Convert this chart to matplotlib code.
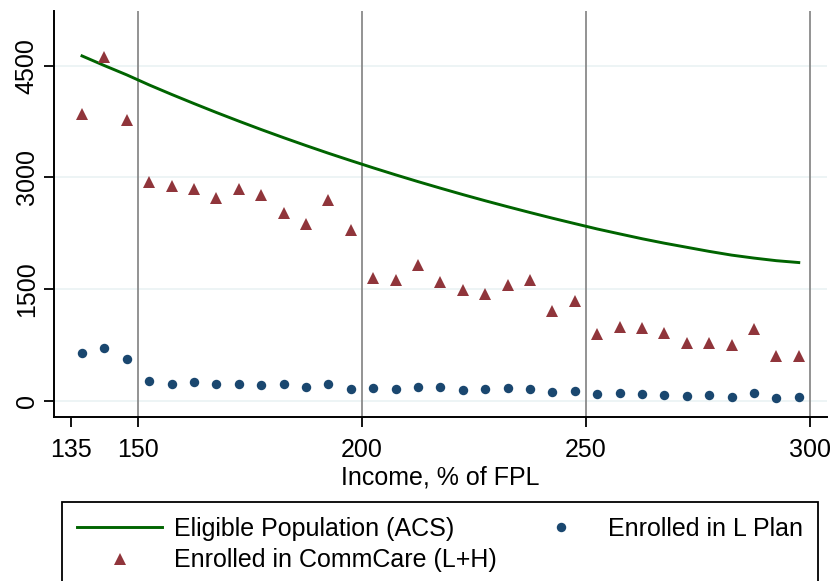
import matplotlib.pyplot as plt
from matplotlib.legend_handler import HandlerLine2D
import numpy as np

plt.rcParams["font.family"] = ["Liberation Sans", "DejaVu Sans"]

# income bins (% of FPL), 5-point bins from 135 to 300
income = np.arange(137.5, 300, 5)

eligible = [4630, 4500, 4375, 4240, 4113, 3990, 3870, 3754, 3641, 3532, 3426,
            3323, 3224, 3127, 3033, 2942, 2854, 2768, 2685, 2605, 2527, 2451,
            2378, 2306, 2240, 2175, 2115, 2060, 2005, 1955, 1915, 1880, 1855]

commcare = [3854, 4613, 3765, 2941, 2887, 2845, 2722, 2845, 2766, 2520, 2370,
            2698, 2295, 1652, 1621, 1821, 1594, 1489, 1435, 1549, 1621, 1211,
            1336, 889, 996, 974, 907, 772, 779, 744, 967, 600, 600]

l_plan = [636, 708, 556, 262, 224, 249, 222, 222, 204, 222, 190,
          222, 163, 172, 163, 188, 180, 144, 157, 166, 157, 112,
          134, 90, 99, 90, 72, 59, 72, 54, 99, 40, 54]

xticks = [135, 150, 200, 250, 300]
yticks = [0, 1500, 3000, 4500]
cutoffs = [150, 200, 250, 300]

green = "#006400"
maroon = "#90353B"
navy = "#1A476F"

fig = plt.figure(figsize=(8.34, 5.81), dpi=100)
ax = fig.add_axes([54 / 834, 1 - 416.7 / 581, 773 / 834, 405.7 / 581])

for y in yticks:
    ax.axhline(y, color="#EAF2F3", lw=1.2, zorder=0)
for c in cutoffs:
    ax.axvline(c, color="#8A8A8A", lw=1.3, zorder=1)

ln, = ax.plot(income, eligible, color=green, lw=2.1, zorder=3,
              label="Eligible Population (ACS)")
tri, = ax.plot(income, commcare, "^", color=maroon, ms=8.5, mew=0, zorder=3,
               label="Enrolled in CommCare (L+H)", linestyle="none")
dot, = ax.plot(income, l_plan, "o", color=navy, ms=6.8, mew=0, zorder=3,
               label="Enrolled in L Plan", linestyle="none")

ax.set_xlim(131.25, 303.8)
ax.set_ylim(-215, 5233)
ax.set_xticks(xticks)
ax.set_yticks(yticks)
ax.tick_params(axis="both", labelsize=18, length=7, width=1.3, direction="out")
ax.tick_params(axis="x", pad=8)
ax.tick_params(axis="y", pad=4, labelrotation=90)
for lbl in ax.get_yticklabels():
    lbl.set_va("center")

for side in ["top", "right"]:
    ax.spines[side].set_visible(False)
for side in ["left", "bottom"]:
    ax.spines[side].set_linewidth(1.4)

ax.set_xlabel("Income, % of FPL", fontsize=18, labelpad=3)

leg = fig.legend(
    handles=[ln, tri, dot],
    ncol=2,
    loc="upper left",
    bbox_to_anchor=(62 / 834, 1 - 502 / 581, 756 / 834, 0.0),
    mode="expand",
    fontsize=18,
    frameon=True,
    fancybox=False,
    framealpha=1,
    edgecolor="black",
    borderpad=0.6,
    handlelength=3.4,
    handletextpad=0.5,
    labelspacing=0.3,
    borderaxespad=0,
    handler_map={dot: HandlerLine2D(numpoints=1, xpad=0.65),
                 tri: HandlerLine2D(numpoints=1)},
)
leg.get_frame().set_linewidth(1.3)

fig.savefig("out.png", dpi=100)
